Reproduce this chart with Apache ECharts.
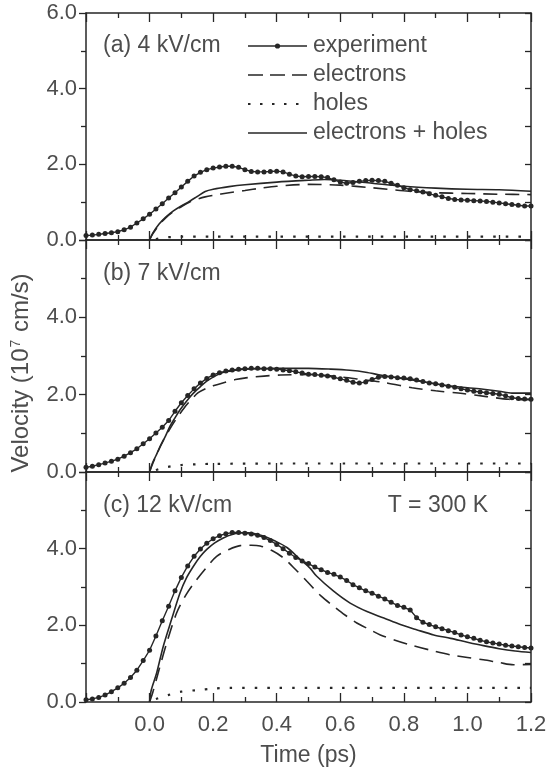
<!DOCTYPE html>
<html><head><meta charset="utf-8">
<script src="https://cdn.jsdelivr.net/npm/echarts@6/dist/echarts.min.js"></script>
<style>html,body{margin:0;padding:0;background:#fff}#c{width:550px;height:770px}</style>
</head><body><div id="c"></div>
<script>
// ---------- data ----------
const xTicks = [-0.2, 0.0, 0.2, 0.4, 0.6, 0.8, 1.0, 1.2];
const yTicks = [0.0, 2.0, 4.0, 6.0];
const seriesNames = ['experiment', 'electrons', 'holes', 'electrons + holes'];
const panelLabels = ['(a) 4 kV/cm', '(b) 7 kV/cm', '(c) 12 kV/cm'];

const tExp = [-0.20,-0.18,-0.16,-0.14,-0.12,-0.10,-0.08,-0.06,-0.04,-0.02,
  0.00,0.02,0.04,0.06,0.08,0.10,0.12,0.14,0.16,0.18,
  0.20,0.22,0.24,0.26,0.28,0.30,0.32,0.34,0.36,0.38,
  0.40,0.42,0.44,0.46,0.48,0.50,0.52,0.54,0.56,0.58,
  0.60,0.62,0.64,0.66,0.68,0.70,0.72,0.74,0.76,0.78,
  0.80,0.82,0.84,0.86,0.88,0.90,0.92,0.94,0.96,0.98,
  1.00,1.02,1.04,1.06,1.08,1.10,1.12,1.14,1.16,1.18,1.20];

const expA = [0.12,0.13,0.15,0.17,0.19,0.22,0.27,0.34,0.45,0.56,
  0.68,0.82,0.96,1.11,1.25,1.40,1.55,1.69,1.79,1.86,
  1.90,1.93,1.95,1.95,1.92,1.86,1.81,1.80,1.80,1.81,
  1.82,1.80,1.74,1.69,1.67,1.68,1.68,1.67,1.65,1.59,
  1.53,1.50,1.52,1.55,1.57,1.58,1.57,1.55,1.50,1.45,
  1.38,1.33,1.30,1.27,1.22,1.18,1.14,1.10,1.07,1.06,
  1.05,1.04,1.03,1.02,1.00,0.98,0.96,0.94,0.92,0.90,0.90];
const elecA = [[0,0],[0.01,0.16],[0.03,0.40],[0.05,0.58],[0.075,0.75],[0.10,0.88],[0.125,1.00],[0.15,1.08],[0.175,1.14],[0.20,1.18],[0.25,1.25],[0.30,1.31],[0.35,1.37],[0.40,1.42],[0.50,1.47],[0.60,1.45],[0.70,1.38],[0.80,1.30],[0.90,1.25],[1.00,1.23],[1.10,1.21],[1.20,1.20]];
const holesA = [[0.02,0.02],[0.04,0.06],[0.07,0.08],[0.10,0.09],[0.20,0.09],[0.40,0.09],[0.60,0.09],[0.80,0.09],[1.00,0.09],[1.20,0.09]];
const sumA = [[0,0],[0.01,0.18],[0.03,0.42],[0.05,0.60],[0.075,0.77],[0.10,0.90],[0.125,1.02],[0.15,1.15],[0.175,1.28],[0.20,1.34],[0.25,1.41],[0.30,1.46],[0.40,1.53],[0.50,1.58],[0.55,1.60],[0.60,1.58],[0.70,1.50],[0.80,1.42],[0.90,1.37],[1.00,1.34],[1.10,1.33],[1.20,1.29]];

const expB = [0.12,0.15,0.19,0.23,0.28,0.33,0.41,0.50,0.60,0.73,
  0.86,1.01,1.16,1.33,1.57,1.79,1.98,2.15,2.30,2.42,
  2.51,2.57,2.61,2.64,2.66,2.67,2.68,2.68,2.67,2.67,
  2.66,2.64,2.62,2.59,2.56,2.53,2.52,2.50,2.48,2.45,
  2.41,2.37,2.32,2.30,2.33,2.39,2.45,2.47,2.46,2.44,
  2.43,2.41,2.38,2.34,2.30,2.28,2.25,2.22,2.19,2.15,
  2.12,2.09,2.07,2.05,2.03,2.01,1.97,1.92,1.90,1.89,1.88];
const elecB = [[0,0],[0.01,0.22],[0.025,0.50],[0.044,0.83],[0.065,1.13],[0.086,1.40],[0.11,1.67],[0.13,1.86],[0.153,2.05],[0.18,2.17],[0.20,2.23],[0.233,2.31],[0.27,2.39],[0.308,2.44],[0.36,2.48],[0.413,2.51],[0.50,2.52],[0.60,2.46],[0.66,2.40],[0.742,2.31],[0.826,2.18],[0.90,2.10],[0.985,2.03],[1.06,1.95],[1.13,1.88],[1.20,1.87]];
const holesB = [[0.02,0.05],[0.04,0.10],[0.07,0.15],[0.10,0.18],[0.15,0.20],[0.20,0.21],[0.40,0.22],[0.60,0.22],[0.80,0.22],[1.00,0.22],[1.20,0.22]];
const sumB = [[0,0],[0.01,0.25],[0.02,0.42],[0.033,0.66],[0.05,0.93],[0.064,1.18],[0.08,1.40],[0.096,1.61],[0.12,1.87],[0.138,2.04],[0.16,2.21],[0.18,2.35],[0.21,2.50],[0.233,2.58],[0.27,2.63],[0.30,2.66],[0.40,2.68],[0.50,2.68],[0.57,2.66],[0.63,2.63],[0.68,2.58],[0.73,2.50],[0.80,2.41],[0.84,2.36],[0.90,2.28],[0.94,2.23],[1.00,2.18],[1.05,2.14],[1.10,2.09],[1.14,2.04],[1.20,2.04]];

const expC = [0.06,0.08,0.12,0.18,0.27,0.37,0.49,0.64,0.83,1.08,
  1.35,1.72,2.12,2.50,2.90,3.25,3.55,3.80,3.99,4.14,
  4.26,4.34,4.39,4.42,4.42,4.40,4.38,4.35,4.29,4.21,
  4.11,4.00,3.88,3.77,3.68,3.61,3.52,3.45,3.38,3.33,
  3.26,3.17,3.06,2.98,2.90,2.84,2.76,2.69,2.60,2.52,
  2.47,2.40,2.20,2.08,2.02,1.96,1.91,1.86,1.81,1.75,
  1.70,1.66,1.61,1.57,1.54,1.51,1.48,1.46,1.44,1.42,1.41];
const elecC = [[0,0],[0.01,0.25],[0.03,0.85],[0.054,1.54],[0.085,2.32],[0.115,2.80],[0.148,3.19],[0.18,3.52],[0.211,3.80],[0.25,3.98],[0.285,4.08],[0.32,4.09],[0.348,4.07],[0.385,3.95],[0.421,3.76],[0.46,3.45],[0.495,3.15],[0.54,2.76],[0.579,2.50],[0.615,2.27],[0.652,2.06],[0.69,1.90],[0.726,1.75],[0.77,1.62],[0.82,1.49],[0.88,1.36],[0.947,1.23],[1.00,1.16],[1.05,1.10],[1.10,1.03],[1.145,0.97],[1.20,0.98]];
const holesC = [[0.02,0.08],[0.058,0.18],[0.10,0.27],[0.15,0.31],[0.20,0.35],[0.25,0.37],[0.40,0.37],[0.60,0.37],[0.80,0.37],[1.00,0.37],[1.20,0.37]];
const sumC = [[0,0],[0.005,0.30],[0.022,0.75],[0.043,1.45],[0.069,2.15],[0.096,2.85],[0.115,3.22],[0.138,3.54],[0.16,3.80],[0.18,3.98],[0.205,4.15],[0.232,4.28],[0.26,4.37],[0.295,4.42],[0.325,4.40],[0.358,4.33],[0.395,4.20],[0.432,4.03],[0.474,3.72],[0.504,3.50],[0.526,3.28],[0.579,2.89],[0.631,2.58],[0.684,2.36],[0.737,2.19],[0.789,2.02],[0.842,1.88],[0.894,1.75],[0.947,1.66],[1.00,1.56],[1.05,1.47],[1.10,1.39],[1.15,1.33],[1.20,1.29]];

// ---------- chart ----------
const FONT = "'Liberation Sans', Arial, sans-serif";
const INK = '#262626', TXT = '#4d4d4d';
const DASH = [14, 8], DOT = [2.5, 10];
const panels = [
  {exp: expA, elec: elecA, holes: holesA, sum: sumA},
  {exp: expB, elec: elecB, holes: holesB, sum: sumB},
  {exp: expC, elec: elecC, holes: holesC, sum: sumC}
];
const gridBox = [{top: 13, height: 227}, {top: 240, height: 232}, {top: 472, height: 230}];
const xMin = xTicks[0], xMax = xTicks[xTicks.length - 1], xInt = xTicks[1] - xTicks[0];
const yMin = yTicks[0], yMax = yTicks[yTicks.length - 1], yInt = yTicks[1] - yTicks[0];

const grid = [], xAxis = [], yAxis = [], series = [];
const lineAxis = {show: true, onZero: false, lineStyle: {color: INK, width: 1.5}};
panels.forEach((p, i) => {
  grid.push({left: 86, right: 19, top: gridBox[i].top, height: gridBox[i].height});
  const xBase = {
    type: 'value', gridIndex: i, min: xMin, max: xMax, interval: xInt,
    axisLine: lineAxis, splitLine: {show: false},
    axisTick: {show: true, inside: true, length: 9, lineStyle: {color: INK, width: 1.3}},
    minorTick: {show: true, splitNumber: 2, length: 5, lineStyle: {color: INK, width: 1.3}}
  };
  xAxis.push(Object.assign({}, xBase, {
    position: 'bottom',
    axisLabel: {show: i === 2, margin: 12, color: TXT, fontSize: 22, fontFamily: FONT,
      formatter: v => (v < xMin + xInt / 2 ? '' : v.toFixed(1))},
    name: i === 2 ? 'Time (ps)' : '', nameLocation: 'middle', nameGap: 42,
    nameTextStyle: {color: TXT, fontSize: 23, fontFamily: FONT}
  }));
  xAxis.push(Object.assign({}, xBase, {position: 'top', axisLabel: {show: false}}));
  yAxis.push({
    type: 'value', gridIndex: i, min: yMin, max: yMax, interval: yInt, position: 'left',
    axisLine: lineAxis, splitLine: {show: false},
    axisTick: {show: true, inside: false, length: 7, lineStyle: {color: INK, width: 1.3}},
    minorTick: {show: true, splitNumber: 2, length: 5, lineStyle: {color: INK, width: 1.3}},
    axisLabel: {margin: 9, color: TXT, fontSize: 22, fontFamily: FONT,
      formatter: v => (i > 0 && v > yMax - yInt / 2 ? '' : v.toFixed(1))}
  });
  yAxis.push({
    type: 'value', gridIndex: i, min: yMin, max: yMax, interval: yInt / 2, position: 'right',
    axisLine: lineAxis, splitLine: {show: false},
    axisTick: {show: true, inside: true, length: 6, lineStyle: {color: INK, width: 1.3}},
    axisLabel: {show: false}
  });
  const xi = 2 * i, yi = 2 * i;
  series.push({
    name: seriesNames[0], type: 'line', xAxisIndex: xi, yAxisIndex: yi,
    data: tExp.map((t, k) => [t, p.exp[k]]),
    symbol: 'circle', symbolSize: 5, showSymbol: true,
    lineStyle: {color: INK, width: 1.4}, itemStyle: {color: INK}, z: 5
  });
  series.push({
    name: seriesNames[1], type: 'line', xAxisIndex: xi, yAxisIndex: yi, data: p.elec,
    smooth: 0.3, showSymbol: false, symbol: 'none',
    lineStyle: {color: INK, width: 1.6, type: DASH}
  });
  series.push({
    name: seriesNames[2], type: 'line', xAxisIndex: xi, yAxisIndex: yi, data: p.holes,
    smooth: 0.3, showSymbol: false, symbol: 'none',
    lineStyle: {color: INK, width: 2.2, type: DOT}
  });
  series.push({
    name: seriesNames[3], type: 'line', xAxisIndex: xi, yAxisIndex: yi, data: p.sum,
    smooth: 0.3, showSymbol: false, symbol: 'none',
    lineStyle: {color: INK, width: 1.6}
  });
});

// legend drawn as graphic (line samples + text)
const LX1 = 248, LX2 = 307, LTX = 313, LY0 = 46, LDY = 29;
const legendGraphics = [];
seriesNames.forEach((n, k) => {
  const y = LY0 + LDY * k;
  const dash = k === 1 ? [15, 7] : (k === 2 ? [2.5, 9.5] : null);
  legendGraphics.push({type: 'line', shape: {x1: LX1, y1: y, x2: LX2, y2: y},
    style: {stroke: INK, lineWidth: k === 2 ? 2.2 : 1.6, lineDash: dash}});
  if (k === 0) legendGraphics.push({type: 'circle', shape: {cx: (LX1 + LX2) / 2, cy: y, r: 2.6}, style: {fill: INK}});
  legendGraphics.push({type: 'text', x: LTX, y: y,
    style: {text: n, fill: TXT, font: '23px ' + FONT, verticalAlign: 'middle'}});
});

const chart = echarts.init(document.getElementById('c'));
chart.setOption({
  animation: false,
  backgroundColor: '#fff',
  grid, xAxis, yAxis, series,
  graphic: legendGraphics.concat([
    {type: 'text', left: 103, top: 34, style: {text: panelLabels[0], fill: TXT, font: '23px ' + FONT}},
    {type: 'text', left: 103, top: 262, style: {text: panelLabels[1], fill: TXT, font: '23px ' + FONT}},
    {type: 'text', left: 103, top: 494, style: {text: panelLabels[2], fill: TXT, font: '23px ' + FONT}},
    {type: 'text', right: 62, top: 494, style: {text: 'T = 300 K', fill: TXT, font: '23px ' + FONT}},
    {type: 'text', x: 21, y: 373, rotation: Math.PI / 2,
      style: {text: 'Velocity (10{sup|7} cm/s)', fill: TXT, font: '24px ' + FONT,
        align: 'center', verticalAlign: 'middle',
        rich: {sup: {fontSize: 14, fontFamily: FONT, fill: TXT, verticalAlign: 'top', padding: [0, 1, 9, 1]}}}}
  ])
});
</script>
</body></html>
